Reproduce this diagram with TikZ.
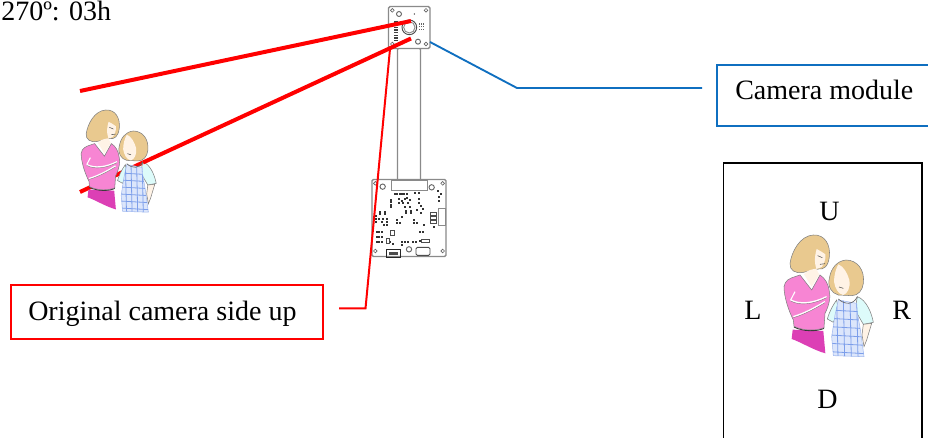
\documentclass[tikz,border=0pt]{standalone}
\usepackage{fontspec}
\setmainfont{Liberation Serif}
\definecolor{hairc}{HTML}{E9C98F}
\definecolor{topc}{HTML}{F785D3}
\definecolor{skirtc}{HTML}{DC3FB5}
\definecolor{skinc}{HTML}{FFF3E6}
\definecolor{sleevec}{HTML}{DDFBFA}
\definecolor{apronc}{HTML}{DCE6FB}
\definecolor{gridc}{HTML}{7C9EEA}
\definecolor{boxblue}{HTML}{0F6FC0}
\definecolor{pcbedge}{HTML}{8A8A8A}
\tikzset{
  label text/.style={font=\fontsize{21pt}{24pt}\selectfont,inner sep=0pt,anchor=base west,text=black},
  thick red/.style={draw=red,line width=3pt},
  thin red/.style={draw=red,line width=1.5pt},
  blue line/.style={draw=boxblue,line width=1.4pt},
  outline/.style={draw=black!50,line width=.4pt},
  pcb/.style={draw=pcbedge,fill=white,line width=1pt},
  hole/.style={draw=black!60,fill=white,line width=.5pt},
  part/.style={fill=black!80,draw=none},
}
\newcommand{\people}[3]{%
\begin{scope}[shift={(#1,#2)},x=#3*0.25pt,y=-#3*0.25pt]
  % woman skirt
  \path[fill=skirtc] (68,314) -- (160,318) -- (166,385) .. controls (130,375) and (90,350) .. (65,342) -- cycle;
  \draw[black!80,line width=.7pt] (72,306) .. controls (100,320) and (140,320) .. (162,310);
  % woman hair
  \path[fill=hairc,outline] (130,30) .. controls (165,28) and (182,60) .. (178,95)
     .. controls (175,125) and (160,135) .. (145,132) -- (100,142)
     .. controls (75,147) and (58,135) .. (60,115) .. controls (65,80) and (90,32) .. (130,30) -- cycle;
  % woman face
  \path[fill=skinc] (140,72) .. controls (150,78) and (160,82) .. (166,88)
     .. controls (168,105) and (160,128) .. (147,130) .. controls (130,132) and (108,135) .. (102,148)
     -- (125,185) -- (148,148) .. controls (135,130) and (130,105) .. (140,72) -- cycle;
  \draw[black!70,line width=.4pt] (150,118) -- (165,116);
  \draw[black!70,line width=.4pt] (143,92) -- (157,98);
  % woman top
  \path[fill=topc,outline] (75,155) .. controls (60,160) and (45,165) .. (42,185)
     .. controls (42,215) and (55,255) .. (70,285) -- (72,304)
     .. controls (100,318) and (140,318) .. (162,308) -- (165,265)
     .. controls (178,240) and (182,215) .. (178,200) .. controls (175,175) and (165,160) .. (150,150)
     -- (125,195) -- (90,150) -- cycle;
  % woman arms
  \draw[white,line width=1.1pt] (62,225) .. controls (90,240) and (130,235) .. (170,215);
  \draw[white,line width=1.1pt] (70,275) .. controls (105,265) and (140,245) .. (165,230);
  \draw[white,line width=.8pt] (75,200) -- (62,225);
  \draw[black!50,line width=.3pt] (62,228) .. controls (90,243) and (130,238) .. (170,218);
  \draw[black!50,line width=.3pt] (70,278) .. controls (105,268) and (140,248) .. (165,233);
  % girl hair
  \path[fill=hairc,outline] (228,105) .. controls (262,105) and (285,135) .. (280,175)
     .. controls (278,195) and (265,212) .. (245,212) -- (205,210)
     .. controls (185,205) and (172,185) .. (178,160) .. controls (183,130) and (200,108) .. (228,105) -- cycle;
  % girl face
  \path[fill=skinc] (205,118) .. controls (222,125) and (232,145) .. (238,165)
     .. controls (242,188) and (232,206) .. (220,210) .. controls (205,208) and (195,190) .. (192,170)
     .. controls (192,150) and (198,130) .. (205,118) -- cycle;
  \draw[black!70,line width=.4pt] (207,186) -- (220,190);
  % girl sleeves
  \path[fill=sleevec,outline] (262,215) .. controls (290,225) and (305,265) .. (310,292)
     -- (280,298) -- (255,255) -- cycle;
  \path[fill=sleevec,outline] (200,225) .. controls (185,245) and (175,270) .. (172,282)
     -- (190,292) -- (205,255) -- cycle;
  % arm skin
  \path[fill=skinc,outline] (280,298) -- (305,295) -- (290,345) -- (282,365) -- (276,330) -- cycle;
  % apron
  \path[fill=apronc,draw=gridc!70,line width=.4pt] (205,225) -- (260,235) -- (262,262) -- (272,320) -- (282,395)
     -- (190,392) -- (185,335) -- (195,270) -- cycle;
  \begin{scope}
    \clip (205,225) -- (260,235) -- (262,262) -- (272,320) -- (282,395)
     -- (190,392) -- (185,335) -- (195,270) -- cycle;
    \foreach \k in {255,280,...,395} \draw[gridc,line width=.6pt] (180,\k) -- (285,\k+6);
    \foreach \k in {200,220,...,280} \draw[gridc,line width=.6pt] (\k,220) -- (\k+4,400);
  \end{scope}
  \draw[black!60,line width=.5pt] (205,222) .. controls (225,240) and (250,240) .. (262,215);
\end{scope}}
\begin{document}
\begin{tikzpicture}[x=0.75pt,y=-0.75pt]
\useasboundingbox (0,0) rectangle (928,438);
\fill[white] (0,0) rectangle (928,438);

% camera module board
\draw[pcb,rounded corners=1pt] (397.5,48) rectangle (420.5,181);
\draw[pcb,rounded corners=1.2pt] (388.5,6.5) rectangle (430,48.5);
\begin{scope}[shift={(350,0)},x=0.25pt,y=-0.25pt]
  \foreach \p/\q in {127/31,228/31,127/132,228/132} \draw[hole] (\p,\q) circle[radius=5.5];
  \foreach \p/\q in {147/42,204/125} \draw[hole,line width=.7pt] (\p,\q) circle[radius=7.5];
  \draw[black!70,line width=.7pt] (178,82) circle[radius=22];
  \draw[black!45,line width=.7pt] (178,82) circle[radius=17];
  \fill[black!70] (193,42) circle[radius=2.5];
  \foreach \p in {209,215,221} \foreach \q in {72,80,88} \fill[black!60] (\p-2,\q-2) rectangle (\p+2,\q+2);
  \foreach \q in {64,72,80,88,96,104,112,120} \fill[black!75] (133,\q) rectangle (145,\q+4);
\end{scope}

% main board
\draw[pcb,rounded corners=1pt] (372,179.5) rectangle (446,256.5);
\begin{scope}[shift={(340,170)},x=0.25pt,y=-0.25pt]
  \draw[pcb,line width=.7pt] (154,30) rectangle (261,62);
  \foreach \p/\q in {106/40,308/40,106/243,308/243} \draw[hole] (\p,\q) circle[radius=5.5];
  \foreach \p/\q in {128/50,275/52,207/238} \draw[hole,line width=.7pt] (\p,\q) circle[radius=8];
  \foreach \p/\q in {165/72,172/72,179/72,186/72,193/72,200/72,226/70,238/70,294/62,304/72,297/82,297/92,
    153/90,153/97,153/104,153/110,178/88,186/92,194/88,202/84,210/90,176/98,190/98,205/98,236/88,238/98,
    195/112,210/112,197/122,212/122,197/130,212/130,232/120,242/130,242/108,250/116,
    120/125,135/125,120/132,135/132,108/138,108/148,118/148,128/148,140/148,108/156,125/156,140/156,
    132/165,142/165,172/150,180/158,172/158,185/140,222/150,232/158,222/158,252/165,282/170,240/186,248/186,
    110/186,118/186,126/186,110/202,118/202,126/202,110/217,118/217,126/217,186/215,186/225,195/215,205/215,218/215,228/215,240/212,150/215,158/222} {
    \fill[part] (\p-3,\q-3) rectangle (\p+3,\q+3);
  }
  \draw[pcb,line width=.6pt] (296,116) -- (316,116) -- (316,165) -- (296,165) -- cycle;
  \foreach \q in {128,140,152} \draw[black!70,line width=.5pt] (272,\q) rectangle (288,\q+9);
  \draw[black!70,line width=.5pt] (152,182) rectangle (162,196);
  \draw[black!70,line width=.5pt] (140,205) rectangle (148,220);
  \draw[black!70,line width=.5pt] (243,208) rectangle (267,218);
  \draw[black!85,line width=.9pt] (140,238) rectangle (182,262);
  \fill[black!70] (148,245) rectangle (174,255);
  \draw[black!70,line width=.7pt,rounded corners=1pt] (228,232) rectangle (270,256);
\end{scope}

% lines beneath figure
\coordinate (redOneA) at (80,91);
\coordinate (redOneB) at (411,21);
\coordinate (redTwoA) at (80,192);
\coordinate (redTwoM) at (143,162.5);
\coordinate (redTwoB) at (411,38.5);
\draw[thick red] (redTwoA) -- (redTwoM);
\people{69.4}{101.6}{0.84}
\draw[thick red] (redOneA) -- (redOneB);
\draw[thick red] (redTwoM) -- (redTwoB);

% people in the orientation box
\people{770}{225}{1}

% Orientation box
\coordinate (kBL) at (723.5,438);
\coordinate (kTL) at (723.5,163);
\coordinate (kTR) at (922,163);
\coordinate (kBR) at (922,438);
\draw[black,line width=1.4pt] (kBL) -- (kTL) -- (kTR) -- (kBR);
\node[label text] (lblU) at (819,221) {U};
\node[label text] (lblL) at (744,320) {L};
\node[label text] (lblR) at (892,320) {R};
\node[label text] (lblD) at (817,408.5) {D};

% camera label
\coordinate (bTR) at (928,65);
\coordinate (bTL) at (717,65);
\coordinate (bBL) at (717,126);
\coordinate (bBR) at (928,126);
\draw[blue line] (bTR) -- (bTL) -- (bBL) -- (bBR);
\node[label text] (camlabel) at (735,100) {Camera module};
\coordinate (blueA) at (430,42);
\coordinate (blueB) at (517,88);
\coordinate (blueC) at (702,88);
\draw[blue line] (blueA) -- (blueB) -- (blueC);

% red label
\node[draw=red,line width=1.4pt,minimum width=312pt*0.75,minimum height=54pt*0.75,inner sep=0pt] (redbox) at (167,312) {};
\node[label text] (redlabel) at (28,320.5) {Original camera side up};
\coordinate (thinA) at (339,308.5);
\coordinate (thinB) at (365.5,308.5);
\coordinate (thinC) at (390,49);
\draw[thin red] (thinA) -- (thinB) -- (thinC);

\node[label text] (angle) at (1,21) {270º: 03h};
\end{tikzpicture}
\end{document}
